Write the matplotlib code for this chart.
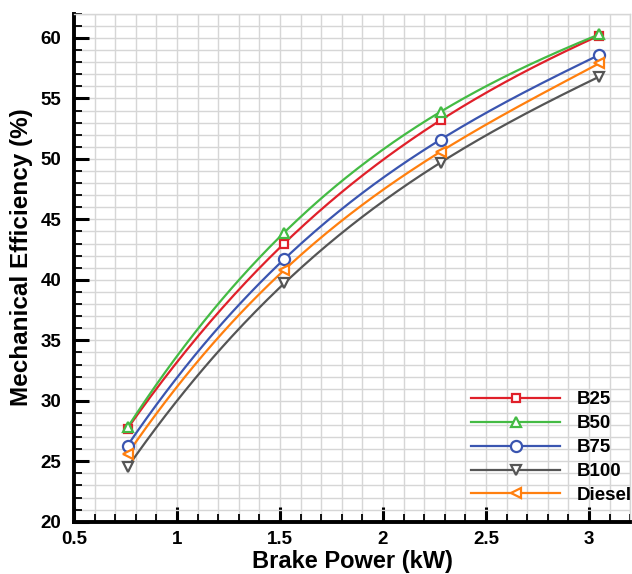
import numpy as np
import matplotlib.pyplot as plt
from matplotlib.ticker import MultipleLocator

plt.rcParams['font.family'] = ['Liberation Sans', 'DejaVu Sans']
plt.rcParams['font.weight'] = 'bold'

# data
power = [0.76, 1.52, 2.28, 3.05]
b25 = [27.7, 43.0, 53.2, 60.2]
b50 = [27.8, 43.9, 53.9, 60.3]
b75 = [26.3, 41.7, 51.6, 58.6]
b100 = [24.5, 39.7, 49.7, 56.8]
diesel = [25.6, 40.8, 50.6, 57.9]

labels = ['B25', 'B50', 'B75', 'B100', 'Diesel']
series = [b25, b50, b75, b100, diesel]
colors = ['#e0202a', '#44bb44', '#3a55b0', '#555555', '#ff7f0e']
markers = ['s', '^', 'o', 'v', '<']
msizes = [6, 7, 8, 7, 7]

fig = plt.figure(figsize=(6.32, 5.74), dpi=100)
ax = fig.add_axes([0.117, 0.091, 0.880, 0.885])

xs = np.linspace(power[0], power[-1], 200)
for lab, y, c, m, s in zip(labels, series, colors, markers, msizes):
    # smooth curve through the points, like the original plotting tool
    coef = np.polyfit(power, y, 3)
    ax.plot(xs, np.polyval(coef, xs), color=c, lw=1.6, zorder=3)
    ax.plot(power, y, ls='none', marker=m, ms=s, mfc='white', mec=c, mew=1.6, zorder=4)
    ax.plot([], [], color=c, lw=1.6, marker=m, ms=s, mfc='white', mec=c, mew=1.6, label=lab)

ax.set_xlim(0.5, 3.2)
ax.set_ylim(20, 62)
ax.xaxis.set_minor_locator(MultipleLocator(0.1))
ax.yaxis.set_major_locator(MultipleLocator(5))
ax.yaxis.set_minor_locator(MultipleLocator(1))
ax.set_xticks([0.5, 1, 1.5, 2, 2.5, 3])
ax.set_xticklabels(['0.5', '1', '1.5', '2', '2.5', '3'])

ax.grid(which='both', color='#d6d6d6', lw=1.0, zorder=0)
ax.set_axisbelow(True)
ax.tick_params(which='major', direction='in', length=11, width=2.2, labelsize=13.5)
ax.tick_params(axis='y', which='major', pad=9)
ax.tick_params(axis='x', which='major', pad=7)
ax.tick_params(which='minor', direction='in', length=6, width=1.3)
ax.tick_params(top=False, right=False, which='both')

for side in ['left', 'bottom']:
    ax.spines[side].set_linewidth(2.8)
for side in ['top', 'right']:
    ax.spines[side].set_color('#d6d6d6')
    ax.spines[side].set_linewidth(1.0)

ax.set_xlabel('Brake Power (kW)', fontsize=17, fontweight='bold', labelpad=1)
ax.set_ylabel('Mechanical Efficiency (%)', fontsize=17.5, fontweight='bold')
ax.yaxis.set_label_coords(-0.074, 0.52)

ax.legend(loc='lower right', bbox_to_anchor=(1.004, 0.035), frameon=False,
          handlelength=4.75, handletextpad=0.9, labelspacing=0.36,
          borderaxespad=0, borderpad=0, prop={'weight': 'bold', 'size': 13.5})

fig.savefig('out.png', dpi=100)
